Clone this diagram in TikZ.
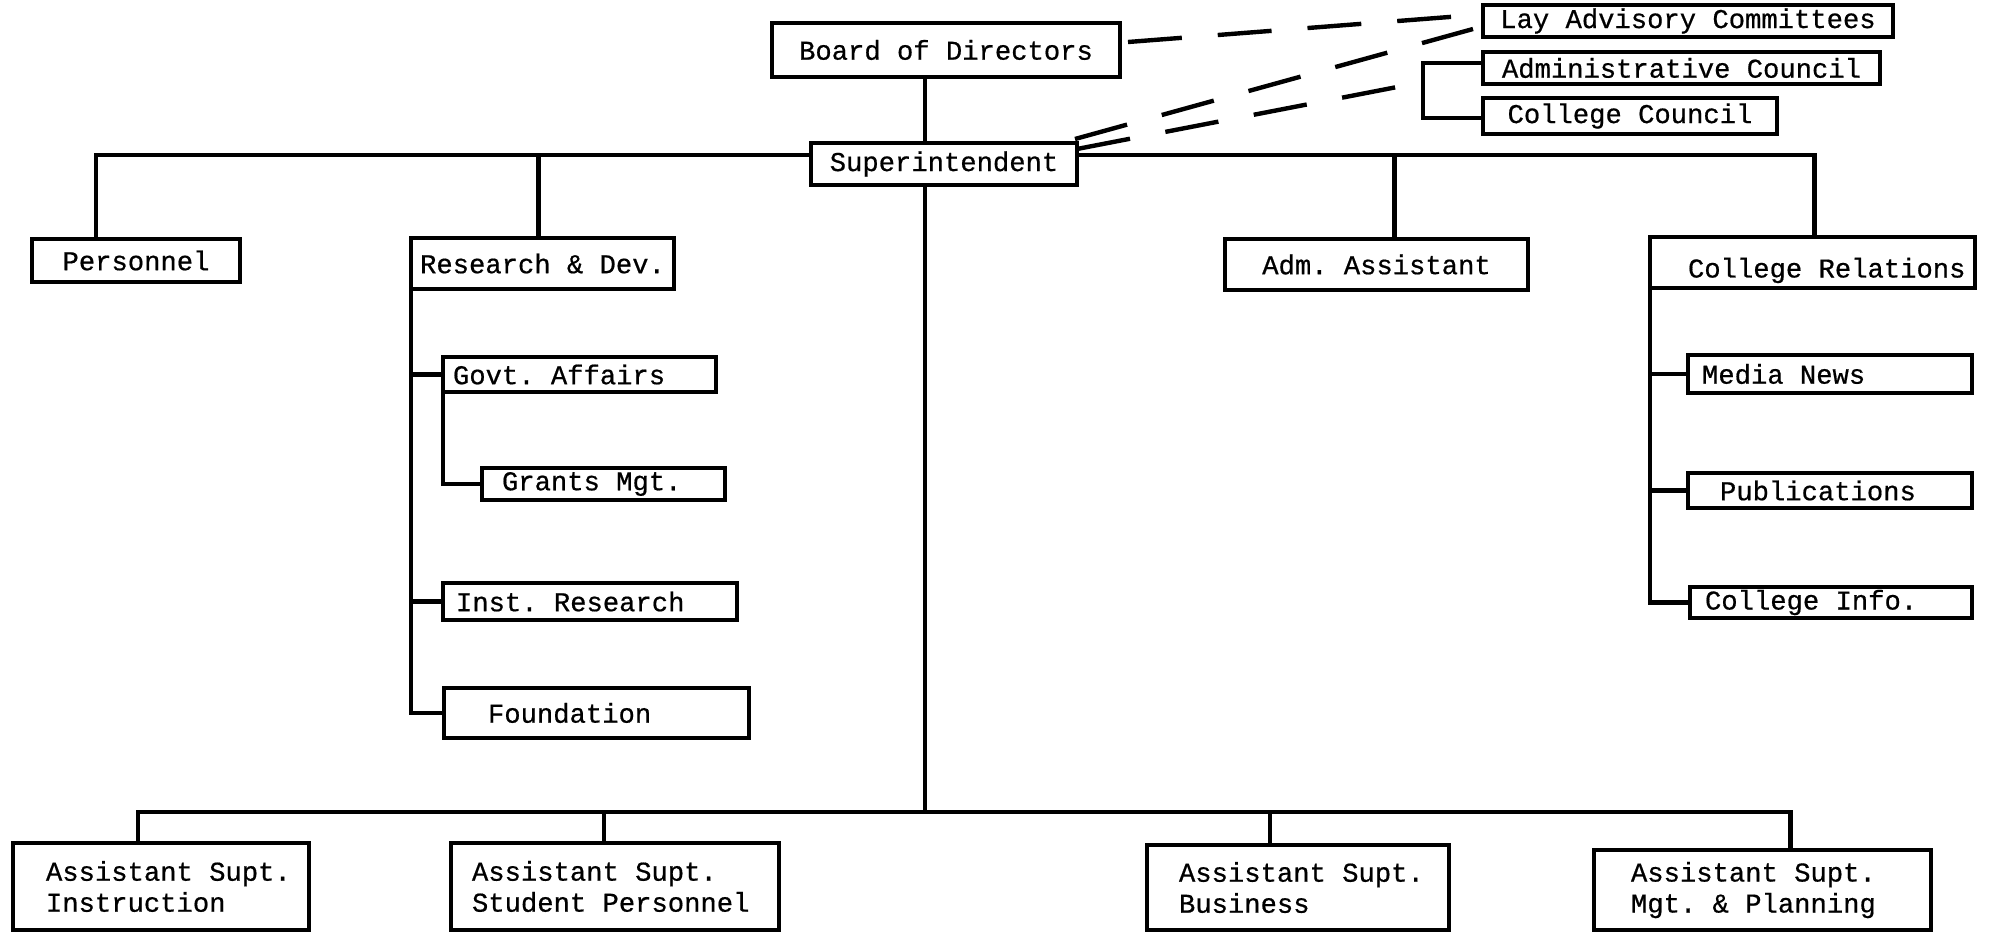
\documentclass[tikz,border=0pt]{standalone}
\usepackage{fontspec}
\newfontfamily\tw[FakeBold=0.6]{Liberation Mono}
\usetikzlibrary{calc}
\tikzset{
  box/.style={draw, line width=2.2pt, fill=white, font={\tw\fontsize{13.6pt}{15.5pt}\selectfont}, inner ysep=0pt, outer sep=0pt},
  conn/.style={line width=2.2pt},
  dashln/.style={line width=2.2pt, dash pattern=on 27pt off 18pt}
}
\newcommand\sk{\frenchspacing\spaceskip=0.6em\relax\xspaceskip=0.6em\relax}
% name x1 y1 x2 y2 text  (centred)
\newcommand\orgc[6]{%
  \pgfmathsetlengthmacro\obw{(#4-#2)*0.5pt}%
  \pgfmathsetlengthmacro\obh{(#5-#3)*0.5pt}%
  \node[box, anchor=north west, minimum width=\obw, minimum height=\obh,
        text width=\obw, inner xsep=0pt, align=center] (#1) at (#2,#3) {\sk #6};}
% name x1 y1 x2 y2 offset text (left aligned)
\newcommand\orgl[8][]{%
  \pgfmathsetlengthmacro\obw{(#5-#3)*0.5pt}%
  \pgfmathsetlengthmacro\obh{(#6-#4)*0.5pt}%
  \pgfmathsetlengthmacro\obo{#7*0.5pt}%
  \node[box, anchor=north west, minimum width=\obw, minimum height=\obh,
        text width=\obw, inner xsep=0pt, align=left, #1] (#2) at (#3,#4) {\sk\ind #8};}
\newcommand\ind{\hspace*{\obo}}
\begin{document}
\begin{tikzpicture}[x=0.5pt,y=-0.5pt]
\fill[white] (0,0) rectangle (1992,937);
\useasboundingbox (0,0) rectangle (1992,937);

% top
\orgc{board}{772}{23}{1120}{77}{Board of Directors}
\orgc{sup}{811}{143}{1077}{185}{Superintendent}
\orgc{lay}{1483}{5}{1893}{37}{Lay Advisory Committees}
\orgc{admc}{1483}{52}{1880}{84}{Administrative Council}
\orgc{ccl}{1483}{98}{1777}{134}{College Council}

% second level
\orgc{pers}{32}{239}{240}{282}{Personnel}
\orgc{rd}{411}{238}{674}{289}{Research \& Dev.}
\orgc{adm}{1225}{239}{1528}{290}{Adm. Assistant}
\orgl[text height=15pt, text depth=0pt]{crel}{1650}{237}{1975}{288}{38}{College Relations}

% R&D children
\orgl{govt}{443}{357}{716}{392}{10}{Govt. Affairs}
\orgl{grants}{482}{468}{725}{500}{20}{Grants Mgt.}
\orgl{inst}{443}{583}{737}{620}{13}{Inst. Research}
\orgl{found}{444}{688}{749}{738}{44}{Foundation}

% College relations children
\orgl{media}{1688}{355}{1972}{393}{14}{Media News}
\orgl{pub}{1688}{473}{1972}{508}{32}{Publications}
\orgl{cinfo}{1690}{587}{1972}{618}{15}{College Info.}

% bottom
\orgl{asi}{13}{843}{309}{930}{33}{Assistant Supt.\\\ind Instruction}
\orgl{asp}{451}{843}{779}{930}{21}{Assistant Supt.\\\ind Student Personnel}
\orgl{asb}{1147}{845}{1449}{930}{32}{Assistant Supt.\\\ind Business}
\orgl{asm}{1594}{850}{1931}{930}{37}{Assistant Supt.\\\ind Mgt. \& Planning}

% helper coordinates
\coordinate (busT) at (0,155);
\coordinate (busB) at (0,812);
\coordinate (cx) at (925,0);
\coordinate (tPers) at ([xshift=-20pt]pers.north);
\coordinate (tRd) at ([xshift=-2pt]rd.north);
\coordinate (tAdm) at ([xshift=9pt]adm.north);
\coordinate (tCrel) at ([xshift=1pt]crel.north);
\coordinate (bI) at ([xshift=-11.5pt]asi.north);
\coordinate (bS) at ([xshift=-5.5pt]asp.north);
\coordinate (bB) at ([xshift=-14pt]asb.north);
\coordinate (bM) at ([xshift=14pt]asm.north);
\coordinate (brk) at (1423,82);

% top bus
\draw[conn] (tPers) -- (tPers |- busT) -- (sup.west |- busT);
\draw[conn] (sup.east |- busT) -- (tCrel |- busT) -- (tCrel);
\draw[conn] (tRd |- busT) -- (tRd);
\draw[conn] (tAdm |- busT) -- (tAdm);
\draw[conn] (board.south -| cx) -- (sup.north -| cx);
\draw[conn] (sup.south -| cx) -- (busB -| cx);

% bottom bus
\draw[conn] (bI) -- (bI |- busB) -- (bM |- busB) -- (bM);
\draw[conn] (bS |- busB) -- (bS);
\draw[conn] (bB |- busB) -- (bB);

% R&D tree
\draw[conn] (rd.south west) |- (found.west);
\draw[conn] (rd.south west |- govt.west) -- (govt.west);
\draw[conn] (rd.south west |- inst.west) -- (inst.west);
\draw[conn] (govt.south west) |- (grants.west);

% College relations tree
\draw[conn] (crel.south west) |- (cinfo.west);
\draw[conn] (crel.south west |- media.west) -- (media.west);
\draw[conn] (crel.south west |- pub.west) -- (pub.west);

% council bracket
\draw[conn] ([yshift=2.5pt]admc.west) -- ++(-30pt,0) |- ([yshift=-1pt]ccl.west);

% dashed advisory lines
\draw[dashln] ([xshift=4pt,yshift=4pt]board.east) -- ([xshift=-4pt,yshift=3pt]lay.west);
\draw[dashln] ([xshift=-1pt,yshift=2pt]sup.north east) -- ([xshift=-5pt,yshift=4pt]lay.south west);
\draw[dashln] ([yshift=-3pt]sup.north east) -- (brk);
\end{tikzpicture}
\end{document}
